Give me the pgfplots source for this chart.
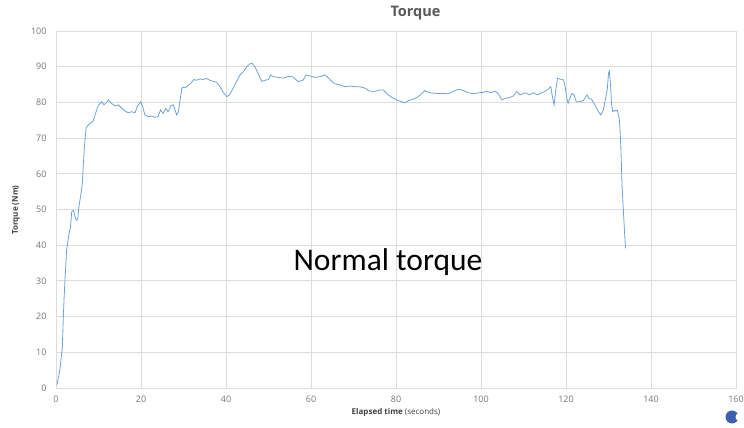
\documentclass[border=0pt]{standalone}
\usepackage{fontspec}
\setmainfont{Open Sans}
\newfontfamily\carlito{Carlito}
\usepackage{pgfplots}
\pgfplotsset{compat=1.18}
\definecolor{gridc}{HTML}{DDDDDD}
\definecolor{linec}{HTML}{6AA3DA}
\definecolor{tickc}{HTML}{767676}
\definecolor{titlec}{HTML}{595959}
\definecolor{labc}{HTML}{404040}
\definecolor{btn}{HTML}{3F5FB0}
\begin{document}
\begin{tikzpicture}[x=1pt,y=1pt]
\path[use as bounding box] (0,0) rectangle (744,428);
\begin{axis}[at={(56pt,40pt)}, anchor=south west, scale only axis,
  width=680pt, height=357pt,
  xmin=0, xmax=160, ymin=0, ymax=100,
  xtick={0,20,...,160}, ytick={0,10,...,100},
  grid=major, grid style={gridc, line width=0.8pt},
  axis line style={gridc, line width=0.8pt},
  major tick length=0pt, tick style={draw=none},
  /pgf/number format/assume math mode=true,
  ticklabel style={font=\fontsize{9}{10}\selectfont, text=tickc},
  yticklabel style={xshift=-6pt},
  xticklabel style={yshift=-4pt},
]
\addplot[linec, line width=0.8pt] coordinates {
(0.2,0.8) (0.9,5) (1.5,11.6) (1.7,19) (1.9,25) (2.1,30) (2.5,38.7) (3.1,43.4)
(3.4,45) (3.7,49.4) (4.1,49.7) (4.5,48) (4.8,47) (5.1,47.2) (5.4,50.8) (5.9,54.6)
(6.2,57.3) (6.4,62) (6.7,67.6) (6.9,70.5) (7.1,72.8) (7.6,73.7) (8.2,74.3) (8.8,74.9)
(9.3,76.9) (9.9,79) (10.7,80.2) (11.3,79.3) (11.8,79.9) (12.3,80.7) (13.1,79.7) (13.9,79)
(14.7,79.3) (15.5,78.3) (16.2,77.6) (17.0,77.1) (17.8,77.4) (18.6,77.1) (19.1,78.8) (19.9,80.2)
(20.4,78.8) (20.9,76.5) (21.7,76) (22.5,76.2) (23.3,75.8) (24.0,76) (24.6,77.9) (25.2,76.9)
(25.8,78.3) (26.4,77.4) (27.0,79) (27.6,79.3) (28.0,77.9) (28.4,76.5) (28.8,77.4) (29.2,80.7)
(29.6,84) (30.0,84.2) (30.3,84.1) (31.1,84.7) (31.9,85.6) (32.5,86.4) (33.1,86.2) (33.9,86.6)
(34.6,86.4) (35.4,86.7) (36.2,86.2) (37.0,85.9) (37.8,85.6) (38.6,84.4) (39.4,82.7) (40.2,81.6)
(40.8,82.1) (41.7,84) (42.5,85.9) (43.3,87.7) (44.1,88.6) (44.9,90) (45.6,90.8) (46.2,90.9)
(46.8,90) (47.6,88) (48.4,85.9) (49.2,86.2) (50.0,86.4) (50.5,87.7) (51.1,87.2) (52.3,87)
(53.5,86.8) (54.7,87.3) (55.8,87.1) (57.0,85.8) (58.2,86.3) (58.8,87.7) (59.8,87.4) (60.9,87)
(62.1,87.2) (63.3,87.7) (64.1,86.8) (64.9,85.9) (65.6,85.2) (66.8,84.9) (68.0,84.4) (69.2,84.6)
(70.4,84.4) (71.5,84.4) (72.7,84) (73.9,83.1) (75.1,83.1) (76.2,83.5) (77.0,83.5) (77.8,82.5)
(79.0,81.4) (80.2,80.7) (81.3,80.2) (82.1,79.9) (82.9,80.5) (84.1,80.9) (85.2,81.6) (86.0,82.4)
(86.8,83.3) (88.0,82.7) (89.6,82.5) (91.1,82.5) (92.3,82.4) (93.5,83.1) (94.7,83.7) (95.9,83.3)
(97.0,82.7) (98.2,82.4) (99.4,82.7) (100.5,82.8) (101.3,83.1) (102.4,82.7) (103.3,83.2) (104.1,82.4)
(104.9,80.7) (105.6,81.1) (106.8,81.4) (107.6,81.8) (108.4,83.1) (109.2,82.1) (110.4,82.7) (111.4,82.1)
(112.3,82.7) (113.3,82.1) (114.3,82.7) (115.1,83.1) (115.8,83.7) (116.4,84.4) (116.8,81.6) (117.2,79.3)
(117.6,83.5) (118.0,86.8) (118.6,86.5) (119.4,86.3) (119.8,84.4) (120.2,81.1) (120.5,79.7) (120.9,81.1)
(121.4,82.5) (121.9,82.1) (122.4,80.2) (123.3,80.2) (124.1,80.5) (124.9,82.1) (125.4,81.1) (126.0,80.9)
(126.8,79.3) (127.6,77.4) (128.2,76.5) (128.8,77.9) (129.3,81.1) (129.7,83.5) (130.0,88.1) (130.2,88.8)
(130.5,84.4) (130.7,79.7) (131.0,77.4) (131.5,77.7) (132.1,77.7) (132.5,75.6) (132.7,72.7) (132.9,67.6)
(133.2,56.4) (133.7,45.2) (134.0,39.1)
};
\end{axis}
\node[font=\bfseries\fontsize{14.5}{16}\selectfont, text=titlec] at (415.5,415) {Torque};
\node[font=\fontsize{8}{10}\selectfont, text=labc] at (396,16) {\textbf{Elapsed time} (seconds)};
\node[font=\bfseries\fontsize{8}{10}\selectfont, text=labc, rotate=90] at (16,218) {Torque (Nm)};
\node[font=\carlito\fontsize{31.5}{36}\selectfont, text=black] at (388,166) {Normal torque};
\fill[btn] (732,11) circle (6.5);
\fill[white] (739.5,11) circle (4);
\end{tikzpicture}
\end{document}
